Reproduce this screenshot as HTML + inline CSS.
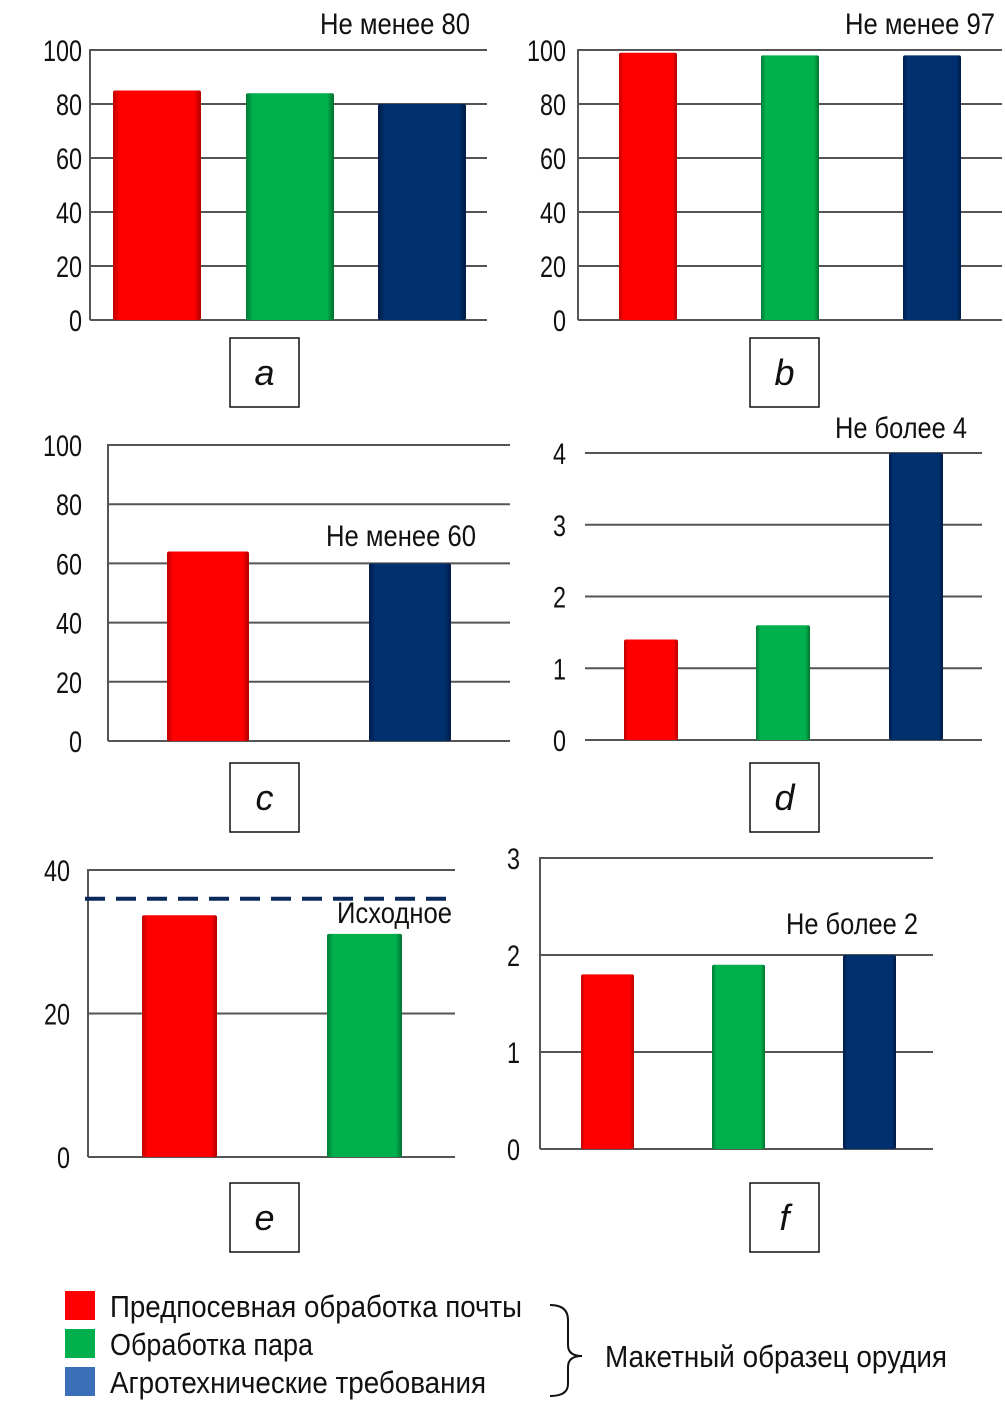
<!DOCTYPE html>
<html><head><meta charset="utf-8"><style>
body{margin:0;background:#fff;width:1005px;height:1417px;overflow:hidden}
svg{display:block}
text{font-family:"Liberation Sans Narrow","Liberation Sans",sans-serif;fill:#111}
</style></head><body>
<svg id="s" width="1005" height="1417" viewBox="0 0 1005 1417">
<defs>
<linearGradient id="gr" x1="0" x2="1"><stop offset="0" stop-color="#c00000"/><stop offset="0.08" stop-color="#ff0000"/><stop offset="0.92" stop-color="#ff0000"/><stop offset="1" stop-color="#b00000"/></linearGradient>
<linearGradient id="gg" x1="0" x2="1"><stop offset="0" stop-color="#007a35"/><stop offset="0.08" stop-color="#00b04c"/><stop offset="0.92" stop-color="#00b04c"/><stop offset="1" stop-color="#00702f"/></linearGradient>
<linearGradient id="gb" x1="0" x2="1"><stop offset="0" stop-color="#001c4a"/><stop offset="0.08" stop-color="#00306e"/><stop offset="0.92" stop-color="#00306e"/><stop offset="1" stop-color="#001a44"/></linearGradient>
</defs>
</svg>
<script>
// chart a
const aTicks=[0,20,40,60,80,100];
const aValues=[85,84,80];
const aColors=['gr','gg','gb'];
// chart b
const bTicks=[0,20,40,60,80,100];
const bValues=[99,98,98];
const bColors=['gr','gg','gb'];
// chart c
const cTicks=[0,20,40,60,80,100];
const cValues=[64,60];
const cColors=['gr','gb'];
// chart d
const dTicks=[0,1,2,3,4];
const dValues=[1.4,1.6,4];
const dColors=['gr','gg','gb'];
// chart e
const eTicks=[0,20,40];
const eValues=[33.7,31.1];
const eColors=['gr','gg'];
const eBaseline=[36];
// chart f
const fTicks=[0,1,2,3];
const fValues=[1.8,1.9,2];
const fColors=['gr','gg','gb'];

const S=document.getElementById('s');
const NS='http://www.w3.org/2000/svg';
function mk(tag,attrs,parent){const e=document.createElementNS(NS,tag);for(const k in attrs)e.setAttribute(k,attrs[k]);(parent||S).appendChild(e);return e;}
function fit(t,w){t.setAttribute('textLength',w);t.setAttribute('lengthAdjust','spacingAndGlyphs');}

function chart(id,cfg,ticks,values,colors){
  const g=mk('g',{});
  
  
  const max=ticks[ticks.length-1];
  const y=v=>cfg.y0-(v/max)*(cfg.y0-cfg.yTop);
  ticks.forEach(t=>{
    const l=mk('line',{x1:cfg.x0,x2:cfg.x1,y1:y(t),y2:y(t),stroke:'#555','stroke-width':2},g);
    
    
    const tx=mk('text',{x:cfg.tx,y:y(t)+11,'text-anchor':'end','font-size':30},g);
    tx.textContent=t;
    fit(tx,String(t).length*13);
    
    
  });
  if(cfg.axis){
    const a=mk('line',{x1:cfg.x0,x2:cfg.x0,y1:cfg.yTop-1,y2:cfg.y0,stroke:'#555','stroke-width':2},g);
    
    
  }
  values.forEach((v,i)=>{
    const r=mk('rect',{x:cfg.bx[i],y:y(v),width:cfg.bw,height:cfg.y0-y(v),fill:'url(#'+colors[i]+')',rx:2},g);
    
    
  });
  if(cfg.label){
    const t=mk('text',{x:cfg.label[0],y:cfg.label[1],'font-size':30},g);
    t.textContent=cfg.label[2];
    fit(t,cfg.label[3]);
    
    
  }
  const b=mk('rect',{x:cfg.box[0],y:cfg.box[1],width:69,height:69,fill:'#fff',stroke:'#111','stroke-width':1.5},g);
  
  
  const bt=mk('text',{x:cfg.box[0]+34.5,y:cfg.box[1]+47,'text-anchor':'middle','font-size':36,'font-style':'italic'},g);
  bt.textContent=id;
  
  
  return {g,y};
}
chart('a',{x0:90,x1:487,y0:320,yTop:50,tx:82,axis:true,bx:[113,246,378],bw:88,label:[320,34,'Не менее 80',150],box:[230,338]},aTicks,aValues,aColors);
chart('b',{x0:578,x1:1002,y0:320,yTop:50,tx:566,axis:true,bx:[619,761,903],bw:58,label:[845,34,'Не менее 97',150],box:[750,338]},bTicks,bValues,bColors);
chart('c',{x0:108,x1:510,y0:741,yTop:445,tx:82,axis:true,bx:[167,369],bw:82,label:[326,546,'Не менее 60',150],box:[230,763]},cTicks,cValues,cColors);
chart('d',{x0:585,x1:982,y0:740,yTop:453,tx:566,axis:false,bx:[624,756,889],bw:54,label:[835,438,'Не более 4',132],box:[750,763]},dTicks,dValues,dColors);
const E=chart('e',{x0:88,x1:455,y0:1157,yTop:870,tx:70,axis:true,bx:[142,327],bw:75,label:null,box:[230,1183]},eTicks,eValues,eColors);
eBaseline.forEach(v=>{
  const d=mk('line',{x1:85,x2:452,y1:E.y(v),y2:E.y(v),stroke:'#0b2a5c','stroke-width':4,'stroke-dasharray':'20 11'},E.g);
  
  
});
const et=mk('text',{x:337,y:923,'font-size':30},E.g);
et.textContent='Исходное';
fit(et,115);


chart('f',{x0:540,x1:933,y0:1149,yTop:858,tx:520,axis:true,bx:[581,712,843],bw:53,label:[786,934,'Не более 2',132],box:[750,1183]},fTicks,fValues,fColors);

// legend
const legItems=['Предпосевная обработка почты','Обработка пара','Агротехнические требования'];
const legWidths=[412,203,376];
const legColors=['#ff0000','#00b04c','#3a6fb8'];
const L=mk('g',{});


legItems.forEach((s,i)=>{
  const r=mk('rect',{x:65,y:1291+i*38,width:30,height:29,fill:legColors[i]},L);
  
  
  const t=mk('text',{x:110,y:1317+i*38,'font-size':31},L);
  t.textContent=s;
  fit(t,legWidths[i]);
  
  
});
const br=mk('path',{d:'M550 1305 Q568 1305 568 1320 L568 1345 Q568 1356 582 1356 Q568 1356 568 1367 L568 1384 Q568 1396 550 1396',fill:'none',stroke:'#111','stroke-width':2},L);


const mt=mk('text',{x:605,y:1367,'font-size':31},L);
mt.textContent='Макетный образец орудия';
fit(mt,342);


</script>
</body></html>
